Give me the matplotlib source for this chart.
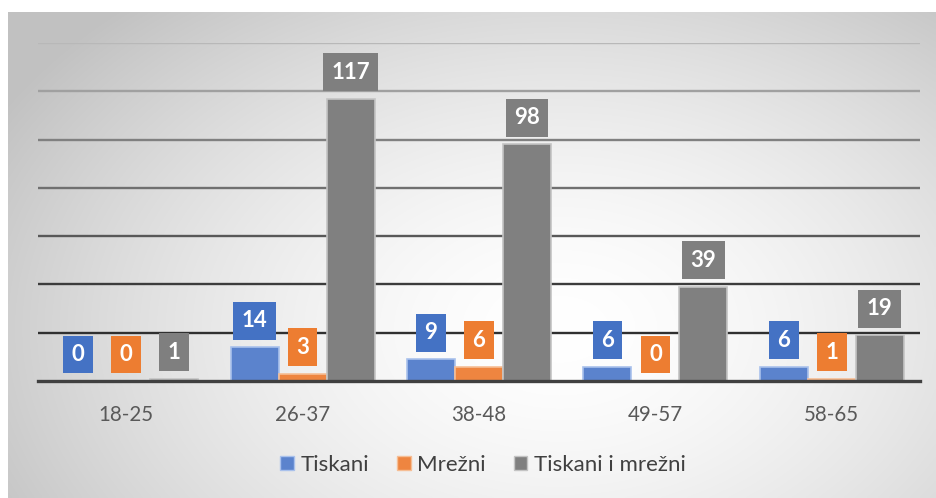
import numpy as np
import matplotlib
matplotlib.use("Agg")
import matplotlib.pyplot as plt
from matplotlib.patches import Patch

categories = ["18-25", "26-37", "38-48", "49-57", "58-65"]
series_names = ["Tiskani", "Mrežni", "Tiskani i mrežni"]
tiskani = [0, 14, 9, 6, 6]
mrezni = [0, 3, 6, 0, 1]
tiskani_i_mrezni = [1, 117, 98, 39, 19]
y_ticks = [0, 20, 40, 60, 80, 100, 120, 140]

series = [tiskani, mrezni, tiskani_i_mrezni]
bar_colors = ["#5B83CD", "#EE8540", "#808080"]
edge_colors = ["#A9C1EC", "#F6BE95", "#C4C4C4"]
label_colors = ["#4472C4", "#ED7D31", "#7F7F7F"]
grid_colors = ["#404040", "#303030", "#3c3c3c", "#585858", "#707070", "#808080", "#a0a0a0", "#b8b8b8"]

plt.rcParams['font.family'] = ['Lato', 'DejaVu Sans']

W, H = 936, 498
fig = plt.figure(figsize=(W / 100, H / 100), dpi=100)
fig.patch.set_facecolor("white")

# gradient background panel
bx0, by0 = 8, 12
bg = fig.add_axes([bx0 / W, 0, (W - bx0) / W, (H - by0) / H], zorder=-10)
xs = np.linspace(bx0, W, 400)
ys = np.linspace(by0, H, 220)
X, Y = np.meshgrid(xs, ys)
cx, cy = 560, 330
r = np.sqrt(((X - cx) / 560) ** 2 + ((Y - cy) / 380) ** 2)
v = 1 - 0.24 * np.clip(r, 0, 1.15) ** 1.6 / 1.15 ** 1.6
img = np.dstack([v, v, v])
bg.imshow(img, aspect='auto', extent=[0, 1, 0, 1], interpolation='bilinear')
bg.set_axis_off()

left, right = 38, 920
top, base = 43, 381
ax = fig.add_axes([left / W, (H - base) / H, (right - left) / W, (base - top) / H])
ax.set_facecolor("none")
ax.set_xlim(-0.5, len(categories) - 0.5)
ax.set_ylim(0, 140)

for i, t in enumerate(y_ticks):
    if t == 0:
        continue
    ax.axhline(t, color=grid_colors[i], lw=1.7, zorder=1)

x = np.arange(len(categories))
bw = 0.272
for k, vals in enumerate(series):
    pos = x + (k - 1) * bw
    ax.bar(pos, vals, width=bw, color=bar_colors[k], edgecolor=edge_colors[k],
           linewidth=1.2, zorder=2)
    for xi, val in zip(pos, vals):
        ax.annotate(str(val), xy=(xi, val), xytext=(0, 11.5), textcoords='offset points',
                    ha='center', va='bottom', color='white', fontsize=16, fontweight='bold',
                    bbox=dict(boxstyle='square,pad=0.38', fc=label_colors[k], ec='none'),
                    zorder=4)

ax.axhline(0, color="#404040", lw=2.4, zorder=3, clip_on=False)

ax.set_xticks(x)
ax.set_xticklabels(categories, fontsize=14.8, color="#595959")
ax.tick_params(axis='x', length=0, pad=17)
ax.set_yticks([])
for s in ax.spines.values():
    s.set_visible(False)

handles = [Patch(facecolor=bar_colors[k], edgecolor=edge_colors[k], label=series_names[k])
           for k in range(3)]
fig.legend(handles=handles, loc='center', bbox_to_anchor=(483 / W, (H - 465) / H), ncol=3,
           frameon=False, fontsize=16, handlelength=0.62, handleheight=0.62,
           handletextpad=0.3, columnspacing=1.25, labelcolor="#404040")

fig.savefig("out.png", dpi=100)
